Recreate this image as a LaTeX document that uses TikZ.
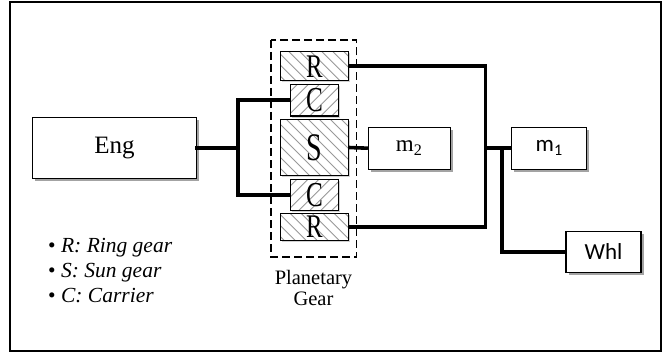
\documentclass[tikz,border=0pt]{standalone}
\usepackage{fontspec}
\setmainfont{Liberation Serif}
\newfontfamily\carl{Carlito}
\usetikzlibrary{shadows}
\begin{document}
\begin{tikzpicture}[x=1pt,y=-1pt,
  box/.style={draw=black,line width=1.1pt,fill=white,inner sep=0pt,
    drop shadow={shadow xshift=2.5pt,shadow yshift=-2.5pt,fill=black!45,opacity=0.8}},
  hatchback/.style={path picture={\foreach \i in {-88,-77,...,88}
      \draw[black!40,line width=0.8pt] (path picture bounding box.center) ++(\i pt-60pt,60pt) -- ++(120pt,-120pt);}},
  hatchfwd/.style={path picture={\foreach \i in {-88,-77,...,88}
      \draw[black!40,line width=0.8pt] (path picture bounding box.center) ++(\i pt-60pt,-60pt) -- ++(120pt,120pt);}},
  gearR/.style={draw=black,line width=1.1pt,inner sep=0pt,fill=white,
    drop shadow={shadow xshift=1.5pt,shadow yshift=-1.5pt,fill=black!30,opacity=0.6},
    hatchback},
  gearC/.style={draw=black,line width=1.1pt,inner sep=0pt,fill=white,
    drop shadow={shadow xshift=1.5pt,shadow yshift=-1.5pt,fill=black!30,opacity=0.6},
    hatchfwd},
  conn/.style={line width=3.6pt,line cap=rect},
  legend/.style={anchor=base west,inner sep=0pt,font=\fontsize{21.5}{24}\selectfont}
]
\useasboundingbox (0,0) rectangle (662,353);
\draw[line width=2pt] (9.5,2) rectangle (661,350.5);

% planetary gear dashed frame
\draw[line width=1.2pt,dash pattern=on 8pt off 4pt] (271,40) rectangle (356.5,257);

\node[box,minimum width=164pt,minimum height=61pt,font=\fontsize{25}{30}\selectfont] (eng) at (114.5,147.8) {Eng};

\node[gearR,minimum width=67.6pt,minimum height=29pt] (rt) at (314.5,66.2)
  {\fontsize{33}{33}\selectfont\scalebox{0.75}[1]{R}};
\node[gearC,minimum width=47.6pt,minimum height=31.7pt] (ct) at (314.5,100.2)
  {\fontsize{35}{35}\selectfont\scalebox{0.72}[1]{C}};
\node[gearR,minimum width=67.6pt,minimum height=56.4pt] (s) at (314.5,147.5)
  {\fontsize{39}{39}\selectfont\scalebox{0.72}[1]{S}};
\node[gearC,minimum width=47.6pt,minimum height=30.7pt] (cb) at (314.5,194.7)
  {\fontsize{35}{35}\selectfont\scalebox{0.72}[1]{C}};
\node[gearR,minimum width=67.6pt,minimum height=26.7pt] (rb) at (314.5,226.7)
  {\fontsize{33}{33}\selectfont\scalebox{0.75}[1]{R}};

\node[box,minimum width=81.7pt,minimum height=41.7pt,font=\fontsize{23}{26}\selectfont] (m2) at (409.2,148.2) {m\textsubscript{2}};
\node[box,minimum width=75pt,minimum height=41.7pt,font=\carl\fontsize{23}{26}\selectfont] (m1) at (549.2,148.2) {m\textsubscript{1}};
\node[box,minimum width=75pt,minimum height=41.7pt,font=\carl\fontsize{23}{27}\selectfont] (whl) at (603.5,251.9) {Whl};

\node[anchor=north,inner sep=0pt,align=center,font=\fontsize{20.5}{21}\selectfont] (pg) at (313.5,270) {Planetary\\Gear};

\node[legend] (l1) at (48,252) {\textbullet\ \textit{R: Ring gear}};
\node[legend] (l2) at (48,277) {\textbullet\ \textit{S: Sun gear}};
\node[legend] (l3) at (48,302) {\textbullet\ \textit{C: Carrier}};

% connectors
\coordinate (j1) at (238,147.8);
\coordinate (j2) at (485.5,148.2);
\coordinate (j3) at (501.7,148.2);
\draw[conn] (eng.east) -- (j1);
\draw[conn,line cap=butt] (ct.west) -| (j1) |- (cb.west);
\draw[conn,line cap=butt] (s.east) -- (m2.west);
\draw[conn,line cap=butt] (rt.east) -| (j2) |- (rb.east);
\draw[conn,line cap=butt] (j2) -- (m1.west);
\draw[conn,line cap=butt] (j3) |- (whl.west);
\end{tikzpicture}
\end{document}
